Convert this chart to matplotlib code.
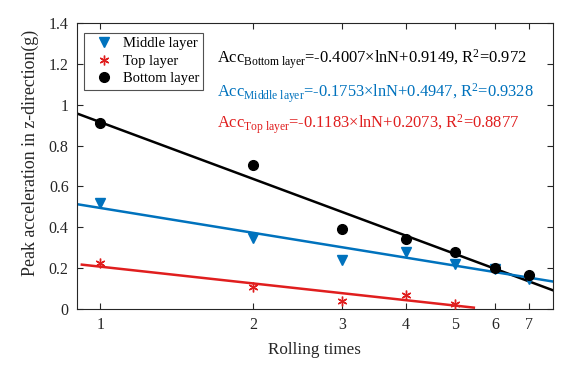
import numpy as np
import matplotlib
matplotlib.use("Agg")
import matplotlib.pyplot as plt

plt.rcParams['font.family'] = ['Liberation Serif', 'DejaVu Serif']
plt.rcParams['mathtext.fontset'] = 'custom'
plt.rcParams['mathtext.rm'] = 'Liberation Serif'
plt.rcParams['mathtext.it'] = 'Liberation Serif:italic'

# Data
n_all = [1, 2, 3, 4, 5, 6, 7]
bottom = [0.91, 0.706, 0.392, 0.341, 0.280, 0.199, 0.166]
middle = [0.517, 0.349, 0.240, 0.280, 0.219, 0.195, 0.145]
n_top = [1, 2, 3, 4, 5]
top = [0.227, 0.106, 0.041, 0.067, 0.024]

# Fit coefficients (a*lnN + b, R^2)
fit_bottom = (-0.4007, 0.9149, 0.972)
fit_middle = (-0.1753, 0.4947, 0.9328)
fit_top = (-0.1183, 0.2073, 0.8877)
fit_range_bm = (0.9, 7.8)
fit_range_top = (0.92, 5.45)

xticks = [1, 2, 3, 4, 5, 6, 7]
yticks = [0, 0.2, 0.4, 0.6, 0.8, 1.0, 1.2, 1.4]
ytick_labels = ['0', '0.2', '0.4', '0.6', '0.8', '1', '1.2', '1.4']

c_black = '#000000'
c_blue = '#0072BD'
c_red = '#E01E1E'

fig = plt.figure(figsize=(5.85, 3.69), dpi=100)
ax = fig.add_axes([0.1316, 0.1626, 0.8134, 0.775])
ax.set_xscale('log')

def fitline(coef, rng, color):
    x = np.linspace(rng[0], rng[1], 200)
    ax.plot(x, coef[0] * np.log(x) + coef[1], color=color, lw=1.8, zorder=2)

fitline(fit_bottom, fit_range_bm, c_black)
fitline(fit_middle, fit_range_bm, c_blue)
fitline(fit_top, fit_range_top, c_red)

h_mid, = ax.plot(n_all, middle, linestyle='none', marker='v', color=c_blue, markersize=7, zorder=3, label='Middle layer')
h_top, = ax.plot(n_top, top, linestyle='none', marker=(6, 2, 0), color=c_red, markersize=7, markeredgewidth=1.0, zorder=3, label='Top layer')
h_bot, = ax.plot(n_all, bottom, linestyle='none', marker='o', color=c_black, markersize=7, zorder=3, label='Bottom layer')

ax.set_xlim(0.9, 7.8)
ax.set_ylim(0, 1.4)
ax.set_xticks(xticks)
ax.set_xticklabels([str(v) for v in xticks])
ax.xaxis.set_minor_locator(matplotlib.ticker.NullLocator())
ax.set_yticks(yticks)
ax.set_yticklabels(ytick_labels)
ax.tick_params(direction='in', top=True, right=True, labelsize=11.5, colors='#262626', length=4, pad=6)
for s in ax.spines.values():
    s.set_color('#262626')
    s.set_linewidth(0.8)

ax.set_xlabel('Rolling times', fontsize=12.3, color='#262626', labelpad=6)
ax.set_ylabel('Peak acceleration in z-direction(g)', fontsize=12.9, color='#262626')
ax.yaxis.set_label_coords(-0.08, 0.545)

leg = ax.legend(handles=[h_mid, h_top, h_bot], loc='upper left', bbox_to_anchor=(0.0147, 0.966),
                fontsize=10.5, frameon=True, fancybox=False, edgecolor='#262626',
                handlelength=2.2, handletextpad=0.15, borderpad=0.3, labelspacing=0.3,
                borderaxespad=0.0)
leg.get_frame().set_linewidth(0.8)

def eqn(name, coef):
    return (r'Acc$_{\mathrm{' + name.replace(' ', r'\ ') + r'}}$' +
            '=%.4f×lnN+%.4f, R$^2$=%s' % (coef[0], coef[1], ('%g' % coef[2])))

ax.text(0.294, 0.860, eqn('Bottom layer', fit_bottom), transform=ax.transAxes, fontsize=11.9, color=c_black)
ax.text(0.294, 0.741, eqn('Middle layer', fit_middle), transform=ax.transAxes, fontsize=11.9, color=c_blue)
ax.text(0.294, 0.633, eqn('Top layer', fit_top), transform=ax.transAxes, fontsize=11.9, color=c_red)

fig.savefig('out.png', dpi=100)
